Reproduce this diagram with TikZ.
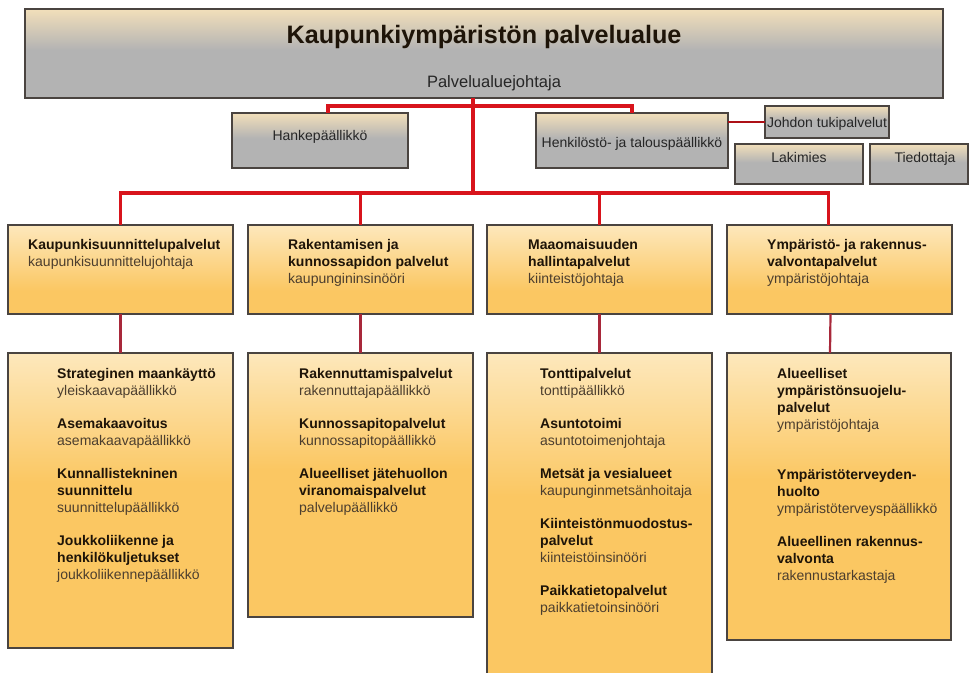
\documentclass[tikz,border=0pt]{standalone}
\usepackage{fontspec}
\setmainfont{Liberation Sans}

% palette
\definecolor{boxgold}{HTML}{FBC762}
\definecolor{boxcream}{HTML}{FDE8BC}
\definecolor{headgray}{HTML}{B3B3B3}
\definecolor{headbeige}{HTML}{F2DFBA}
\definecolor{boxline}{HTML}{4A4440}
\definecolor{linkred}{HTML}{D8141C}
\definecolor{linkdark}{HTML}{A8283A}
\definecolor{titleink}{HTML}{1E1408}
\definecolor{subink}{HTML}{4C3E2E}

% vertical fills: the path spans 25bp (bottom) to 75bp (top)
\pgfdeclareverticalshading{unitfill}{100bp}{color(0bp)=(boxgold); color(53bp)=(boxgold); color(75bp)=(boxcream); color(100bp)=(boxcream)}
\pgfdeclareverticalshading{deptfill}{100bp}{color(0bp)=(boxgold); color(38bp)=(boxgold); color(75bp)=(boxcream); color(100bp)=(boxcream)}
\pgfdeclareverticalshading{leadfill}{100bp}{color(0bp)=(headgray); color(52bp)=(headgray); color(75bp)=(headbeige); color(100bp)=(headbeige)}

\tikzset{
  basebox/.style={draw=boxline, line width=1.4pt, anchor=north west, inner sep=0pt, outer sep=0pt},
  leadbox/.style={basebox, shade, shading=leadfill},
  deptbox/.style={basebox, shade, shading=deptfill},
  unitbox/.style={basebox, shade, shading=unitfill},
  redlink/.style={draw=linkred, line width=3.4pt},
  darklink/.style={draw=linkdark, line width=2.2pt},
  leadtext/.style={anchor=base, inner sep=0pt, text=black!85, font=\fontsize{14}{17}\selectfont},
  blocktext/.style={anchor=north west, inner sep=0pt, align=left, text=subink, font=\fontsize{14}{17}\selectfont},
}
\newcommand{\hd}[1]{\textcolor{titleink}{\textbf{#1}}}

\begin{document}
\begin{tikzpicture}[x=1pt, y=-1pt]
\useasboundingbox[fill=white] (0,0) rectangle (969,672);

% ---- management level ----
\node[leadbox, minimum width=918pt, minimum height=89pt] (top) at (25,9) {};
\node[leadtext, font=\fontsize{25.2}{30}\selectfont\bfseries, text=titleink] (toptitle) at (484,43) {Kaupunkiympäristön palvelualue};
\node[leadtext, font=\fontsize{16.5}{20}\selectfont] (topsub) at (494,87) {Palvelualuejohtaja};

\node[leadbox, minimum width=176pt, minimum height=55pt] (hanke) at (232,113) {};
\node[leadtext] (hanketext) at (320,140) {Hankepäällikkö};
\node[leadbox, minimum width=192pt, minimum height=55pt] (henk) at (536,113) {};
\node[leadtext] (henktext) at (632,147) {Henkilöstö- ja talouspäällikkö};
\node[leadbox, minimum width=124pt, minimum height=32pt] (johdon) at (765,106) {};
\node[leadtext] (johdontext) at (827,127) {Johdon tukipalvelut};
\node[leadbox, minimum width=128pt, minimum height=40pt] (laki) at (735,144) {};
\node[leadtext] (lakitext) at (799,162) {Lakimies};
\node[leadbox, minimum width=98pt, minimum height=40pt] (tied) at (870,144) {};
\node[leadtext] (tiedtext) at (925,162) {Tiedottaja};

% ---- service departments ----
\node[deptbox, minimum width=225pt, minimum height=89pt] (da) at (8,225) {};
\node[deptbox, minimum width=225pt, minimum height=89pt] (db) at (248,225) {};
\node[deptbox, minimum width=225pt, minimum height=89pt] (dc) at (487,225) {};
\node[deptbox, minimum width=225pt, minimum height=89pt] (dd) at (727,225) {};

\node[blocktext] (dat) at (28,237.1) {\strut\hd{Kaupunkisuunnittelupalvelut}\\kaupunkisuunnittelujohtaja};
\node[blocktext] (dbt) at (288,237.1) {\strut\hd{Rakentamisen ja}\\\hd{kunnossapidon palvelut}\\kaupungininsinööri};
\node[blocktext] (dct) at (528,237.1) {\strut\hd{Maaomaisuuden}\\\hd{hallintapalvelut}\\kiinteistöjohtaja};
\node[blocktext] (ddt) at (767,237.1) {\strut\hd{Ympäristö- ja rakennus-}\\\hd{valvontapalvelut}\\ympäristöjohtaja};

% ---- units ----
\node[unitbox, minimum width=225pt, minimum height=295pt] (ua) at (8,353) {};
\node[unitbox, minimum width=225pt, minimum height=264pt] (ub) at (248,353) {};
\node[unitbox, minimum width=225pt, minimum height=325pt] (uc) at (487,353) {};
\node[unitbox, minimum width=224pt, minimum height=287pt] (ud) at (727,353) {};

\node[blocktext] (uat) at (57,366.1) {\strut\hd{Strateginen maankäyttö}\\yleiskaavapäällikkö\\[16pt]
  \hd{Asemakaavoitus}\\asemakaavapäällikkö\\[16pt]
  \hd{Kunnallistekninen}\\\hd{suunnittelu}\\suunnittelupäällikkö\\[16pt]
  \hd{Joukkoliikenne ja}\\\hd{henkilökuljetukset}\\joukkoliikennepäällikkö};
\node[blocktext] (ubt) at (299,366.1) {\strut\hd{Rakennuttamispalvelut}\\rakennuttajapäällikkö\\[16pt]
  \hd{Kunnossapitopalvelut}\\kunnossapitopäällikkö\\[16pt]
  \hd{Alueelliset jätehuollon}\\\hd{viranomaispalvelut}\\palvelupäällikkö};
\node[blocktext] (uct) at (540,366.1) {\strut\hd{Tonttipalvelut}\\tonttipäällikkö\\[16pt]
  \hd{Asuntotoimi}\\asuntotoimenjohtaja\\[16pt]
  \hd{Metsät ja vesialueet}\\kaupunginmetsänhoitaja\\[16pt]
  \hd{Kiinteistönmuodostus-}\\\hd{palvelut}\\kiinteistöinsinööri\\[16pt]
  \hd{Paikkatietopalvelut}\\paikkatietoinsinööri};
\node[blocktext] (udt) at (777,366.1) {\strut\hd{Alueelliset}\\\hd{ympäristönsuojelu-}\\\hd{palvelut}\\ympäristöjohtaja\\[33pt]
  \hd{Ympäristöterveyden-}\\\hd{huolto}\\ympäristöterveyspäällikkö\\[16pt]
  \hd{Alueellinen rakennus-}\\\hd{valvonta}\\rakennustarkastaja};

% ---- connectors ----
\coordinate (bus) at (473,193);
\coordinate (staffbus) at (473,106);
\draw[redlink] (top.south -| bus) -- (bus);
\draw[redlink] ([xshift=8pt]hanke.north) |- (staffbus) -| (henk.north);
\draw[redlink] (da.north) |- (bus) -| ([xshift=-11pt]dd.north);
\draw[redlink] (db.north) -- (db.north |- bus);
\draw[redlink] (dc.north) -- (dc.north |- bus);
\draw[darklink, draw=linkred!80!black] (henk.east |- johdon.west) -- (johdon.west);
\draw[darklink] (da.south) -- (ua.north);
\draw[darklink] (db.south) -- (ub.north);
\draw[darklink] (dc.south) -- (uc.north);
\draw[darklink] ([xshift=-9pt]dd.south) -- ([xshift=-9pt]ud.north);
\end{tikzpicture}
\end{document}
